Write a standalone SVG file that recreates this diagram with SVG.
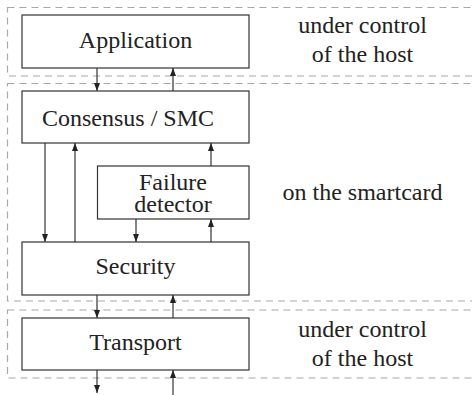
<svg xmlns="http://www.w3.org/2000/svg" width="472" height="395" viewBox="0 0 472 395">
<style>
.region{fill:none;stroke:#a8a8a8;stroke-width:1.2;stroke-dasharray:7 5}
.box{fill:#fff;stroke:#333;stroke-width:1.2}
.lbl{font-family:'Liberation Serif','Times New Roman',serif;font-size:24px;fill:#222;text-anchor:middle}
.conn line{stroke:#333;stroke-width:1.2;marker-end:url(#ah)}
</style>
<defs>
<marker id="ah" viewBox="0 0 8 6" refX="8" refY="3" markerWidth="8" markerHeight="6" markerUnits="userSpaceOnUse" orient="auto">
<path d="M0,0 L8,3 L0,6 Z" fill="#222"/>
</marker>
</defs>
<g id="regions">
<rect class="region" x="7.5" y="7.5" width="480" height="68.5"/>
<rect class="region" x="7.5" y="83.5" width="480" height="217.5"/>
<rect class="region" x="7.5" y="310" width="480" height="68"/>
</g>
<g id="host-label-top">
<text class="lbl" x="362.5" y="33">under control</text>
<text class="lbl" x="362.5" y="62">of the host</text>
</g>
<g id="smartcard-label">
<text class="lbl" x="362.5" y="200">on the smartcard</text>
</g>
<g id="host-label-bottom">
<text class="lbl" x="362.5" y="337">under control</text>
<text class="lbl" x="362.5" y="366">of the host</text>
</g>
<g class="conn" id="connectors">
<line x1="97" y1="68" x2="97" y2="91"/>
<line x1="173" y1="91" x2="173" y2="68"/>
<line x1="45" y1="143" x2="45" y2="242"/>
<line x1="75" y1="242" x2="75" y2="143"/>
<line x1="211" y1="166" x2="211" y2="143"/>
<line x1="136" y1="219" x2="136" y2="242"/>
<line x1="211" y1="242" x2="211" y2="219"/>
<line x1="97" y1="295" x2="97" y2="318"/>
<line x1="173" y1="318" x2="173" y2="295"/>
<line x1="97" y1="370" x2="97" y2="393"/>
<line x1="173" y1="395" x2="173" y2="370"/>
</g>
<g id="application">
<rect class="box" x="22" y="15" width="227" height="53"/>
<text class="lbl" x="135.5" y="48">Application</text>
</g>
<g id="consensus">
<rect class="box" x="22" y="91" width="227" height="52"/>
<text class="lbl" x="128" y="126">Consensus / SMC</text>
</g>
<g id="failure-detector">
<rect class="box" x="97.5" y="166" width="151.5" height="53"/>
<text class="lbl" x="173" y="190">Failure</text>
<text class="lbl" x="173" y="212">detector</text>
</g>
<g id="security">
<rect class="box" x="22" y="242" width="227" height="53"/>
<text class="lbl" x="135.5" y="274">Security</text>
</g>
<g id="transport">
<rect class="box" x="22" y="318" width="227" height="52"/>
<text class="lbl" x="135.5" y="350">Transport</text>
</g>
</svg>
